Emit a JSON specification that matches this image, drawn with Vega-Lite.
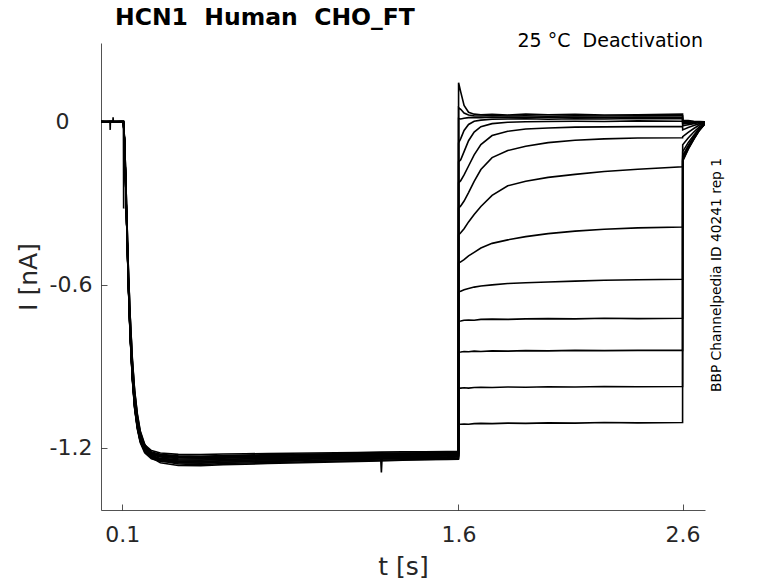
{
"$schema": "https://vega.github.io/schema/vega-lite/v6.json",
"autosize": "none",
"width": 604,
"height": 467,
"padding": {"left": 101, "top": 43, "right": 73, "bottom": 73},
"background": "white",
"config": {
  "view": {"stroke": null},
  "font": "DejaVu Sans",
  "axis": {"grid": false, "domainColor": "#262626", "domainWidth": 0.8, "tickColor": "#262626", "tickWidth": 0.8, "tickSize": -6, "labelFont": "DejaVu Sans", "labelFontSize": 22, "labelColor": "#262626", "titleFont": "DejaVu Sans", "titleFontSize": 25, "titleFontWeight": "normal", "titleColor": "#262626"}
},
"title": {"text": "HCN1\u00a0 Human\u00a0 CHO_FT", "anchor": "start", "frame": "group", "dx": 14, "fontSize": 23.5, "fontWeight": "bold", "font": "DejaVu Sans", "color": "#000000", "offset": -16, "baseline": "alphabetic"},
"layer": [
{
"data": {"values": [
{"s":1,"t":0,"i":0.002},{"s":1,"t":0.045,"i":0.0},{"s":1,"t":0.046,"i":-0.03},{"s":1,"t":0.047,"i":0.0},{"s":1,"t":0.05,"i":-0.001},{"s":1,"t":0.1,"i":0.001},{"s":1,"t":0.105,"i":0.0},
{"s":1,"t":0.11,"i":-0.075},{"s":1,"t":0.115,"i":-0.224},{"s":1,"t":0.12,"i":-0.386},{"s":1,"t":0.127,"i":-0.598},{"s":1,"t":0.135,"i":-0.784},{"s":1,"t":0.145,"i":-0.946},{"s":1,"t":0.155,"i":-1.052},{"s":1,"t":0.167,"i":-1.127},{"s":1,"t":0.18,"i":-1.177},{"s":1,"t":0.2,"i":-1.214},{"s":1,"t":0.23,"i":-1.236},{"s":1,"t":0.27,"i":-1.245},
{"s":1,"t":0.35,"i":-1.251},{"s":1,"t":0.45,"i":-1.253},{"s":1,"t":0.55,"i":-1.248},{"s":1,"t":0.65,"i":-1.247},{"s":1,"t":0.75,"i":-1.245},{"s":1,"t":0.85,"i":-1.246},{"s":1,"t":0.95,"i":-1.242},{"s":1,"t":1.05,"i":-1.241},{"s":1,"t":1.15,"i":-1.24},{"s":1,"t":1.25,"i":-1.238},{"s":1,"t":1.253,"i":-1.239},{"s":1,"t":1.256,"i":-1.292},{"s":1,"t":1.259,"i":-1.239},{"s":1,"t":1.35,"i":-1.237},{"s":1,"t":1.45,"i":-1.235},{"s":1,"t":1.55,"i":-1.234},{"s":1,"t":1.6,"i":-1.232},
{"s":1,"t":1.6005,"i":0.144},{"s":1,"t":1.61,"i":0.11},{"s":1,"t":1.625,"i":0.06},{"s":1,"t":1.645,"i":0.035},{"s":1,"t":1.67,"i":0.028},{"s":1,"t":1.7,"i":0.026},{"s":1,"t":1.75,"i":0.027},{"s":1,"t":1.82,"i":0.025},{"s":1,"t":1.9,"i":0.028},{"s":1,"t":2.0,"i":0.026},{"s":1,"t":2.12,"i":0.027},{"s":1,"t":2.25,"i":0.025},{"s":1,"t":2.4,"i":0.026},{"s":1,"t":2.6,"i":0.028},
{"s":1,"t":2.6005,"i":0.005},{"s":1,"t":2.625,"i":0.004},{"s":1,"t":2.65,"i":0.002},{"s":1,"t":2.675,"i":0.001},{"s":1,"t":2.7,"i":0.0},

{"s":2,"t":0,"i":-0.002},{"s":2,"t":0.05,"i":0.002},{"s":2,"t":0.058,"i":0.001},{"s":2,"t":0.059,"i":0.016},{"s":2,"t":0.06,"i":0.0},{"s":2,"t":0.1,"i":0.0},{"s":2,"t":0.105,"i":-0.001},
{"s":2,"t":0.11,"i":-0.074},{"s":2,"t":0.115,"i":-0.221},{"s":2,"t":0.12,"i":-0.381},{"s":2,"t":0.127,"i":-0.59},{"s":2,"t":0.135,"i":-0.775},{"s":2,"t":0.145,"i":-0.935},{"s":2,"t":0.155,"i":-1.039},{"s":2,"t":0.167,"i":-1.113},{"s":2,"t":0.18,"i":-1.162},{"s":2,"t":0.2,"i":-1.199},{"s":2,"t":0.23,"i":-1.221},{"s":2,"t":0.27,"i":-1.23},
{"s":2,"t":0.35,"i":-1.236},{"s":2,"t":0.45,"i":-1.238},{"s":2,"t":0.55,"i":-1.234},{"s":2,"t":0.65,"i":-1.233},{"s":2,"t":0.75,"i":-1.232},{"s":2,"t":0.85,"i":-1.231},{"s":2,"t":0.95,"i":-1.229},{"s":2,"t":1.05,"i":-1.228},{"s":2,"t":1.15,"i":-1.227},{"s":2,"t":1.25,"i":-1.226},{"s":2,"t":1.35,"i":-1.225},{"s":2,"t":1.45,"i":-1.224},{"s":2,"t":1.55,"i":-1.223},{"s":2,"t":1.6,"i":-1.222},
{"s":2,"t":1.6005,"i":0.052},{"s":2,"t":1.61,"i":0.046},{"s":2,"t":1.625,"i":0.032},{"s":2,"t":1.645,"i":0.025},{"s":2,"t":1.67,"i":0.022},{"s":2,"t":1.7,"i":0.021},{"s":2,"t":1.75,"i":0.023},{"s":2,"t":1.82,"i":0.021},{"s":2,"t":1.9,"i":0.022},{"s":2,"t":2.0,"i":0.02},{"s":2,"t":2.12,"i":0.022},{"s":2,"t":2.25,"i":0.021},{"s":2,"t":2.4,"i":0.022},{"s":2,"t":2.6,"i":0.022},
{"s":2,"t":2.6005,"i":0.0},{"s":2,"t":2.625,"i":0.0},{"s":2,"t":2.65,"i":-0.001},{"s":2,"t":2.675,"i":0.0},{"s":2,"t":2.7,"i":0.0},

{"s":3,"t":0,"i":0.001},{"s":3,"t":0.05,"i":0.0},{"s":3,"t":0.1,"i":-0.002},{"s":3,"t":0.105,"i":0.001},
{"s":3,"t":0.11,"i":-0.063},{"s":3,"t":0.115,"i":-0.188},{"s":3,"t":0.12,"i":-0.339},{"s":3,"t":0.127,"i":-0.54},{"s":3,"t":0.135,"i":-0.715},{"s":3,"t":0.145,"i":-0.879},{"s":3,"t":0.155,"i":-0.991},{"s":3,"t":0.167,"i":-1.079},{"s":3,"t":0.18,"i":-1.142},{"s":3,"t":0.2,"i":-1.192},{"s":3,"t":0.23,"i":-1.23},{"s":3,"t":0.27,"i":-1.249},
{"s":3,"t":0.35,"i":-1.26},{"s":3,"t":0.45,"i":-1.263},{"s":3,"t":0.55,"i":-1.259},{"s":3,"t":0.65,"i":-1.257},{"s":3,"t":0.75,"i":-1.255},{"s":3,"t":0.85,"i":-1.254},{"s":3,"t":0.95,"i":-1.252},{"s":3,"t":1.05,"i":-1.25},{"s":3,"t":1.15,"i":-1.249},{"s":3,"t":1.25,"i":-1.247},{"s":3,"t":1.35,"i":-1.245},{"s":3,"t":1.45,"i":-1.244},{"s":3,"t":1.55,"i":-1.242},{"s":3,"t":1.6,"i":-1.24},
{"s":3,"t":1.6005,"i":0.012},{"s":3,"t":1.61,"i":0.01},{"s":3,"t":1.625,"i":0.013},{"s":3,"t":1.645,"i":0.015},{"s":3,"t":1.67,"i":0.016},{"s":3,"t":1.7,"i":0.015},{"s":3,"t":1.75,"i":0.017},{"s":3,"t":1.82,"i":0.016},{"s":3,"t":1.9,"i":0.015},{"s":3,"t":2.0,"i":0.017},{"s":3,"t":2.12,"i":0.016},{"s":3,"t":2.25,"i":0.015},{"s":3,"t":2.4,"i":0.017},{"s":3,"t":2.6,"i":0.016},
{"s":3,"t":2.6005,"i":-0.004},{"s":3,"t":2.625,"i":-0.003},{"s":3,"t":2.65,"i":-0.002},{"s":3,"t":2.675,"i":-0.001},{"s":3,"t":2.7,"i":0.0},

{"s":4,"t":0,"i":0.0},{"s":4,"t":0.05,"i":0.002},{"s":4,"t":0.1,"i":0.001},{"s":4,"t":0.105,"i":0.0},{"s":4,"t":0.106,"i":-0.32},{"s":4,"t":0.1075,"i":-0.06},
{"s":4,"t":0.11,"i":-0.074},{"s":4,"t":0.115,"i":-0.223},{"s":4,"t":0.12,"i":-0.384},{"s":4,"t":0.127,"i":-0.595},{"s":4,"t":0.135,"i":-0.781},{"s":4,"t":0.145,"i":-0.942},{"s":4,"t":0.155,"i":-1.048},{"s":4,"t":0.167,"i":-1.122},{"s":4,"t":0.18,"i":-1.172},{"s":4,"t":0.2,"i":-1.209},{"s":4,"t":0.23,"i":-1.231},{"s":4,"t":0.27,"i":-1.24},
{"s":4,"t":0.35,"i":-1.246},{"s":4,"t":0.45,"i":-1.247},{"s":4,"t":0.55,"i":-1.244},{"s":4,"t":0.65,"i":-1.242},{"s":4,"t":0.75,"i":-1.241},{"s":4,"t":0.85,"i":-1.239},{"s":4,"t":0.95,"i":-1.238},{"s":4,"t":1.05,"i":-1.236},{"s":4,"t":1.15,"i":-1.235},{"s":4,"t":1.25,"i":-1.233},{"s":4,"t":1.35,"i":-1.232},{"s":4,"t":1.45,"i":-1.231},{"s":4,"t":1.55,"i":-1.229},{"s":4,"t":1.6,"i":-1.228},
{"s":4,"t":1.6005,"i":-0.078},{"s":4,"t":1.61,"i":-0.062},{"s":4,"t":1.625,"i":-0.032},{"s":4,"t":1.645,"i":-0.01},{"s":4,"t":1.67,"i":0.002},{"s":4,"t":1.7,"i":0.006},{"s":4,"t":1.75,"i":0.009},{"s":4,"t":1.82,"i":0.01},{"s":4,"t":1.9,"i":0.011},{"s":4,"t":2.0,"i":0.009},{"s":4,"t":2.12,"i":0.011},{"s":4,"t":2.25,"i":0.01},{"s":4,"t":2.4,"i":0.012},{"s":4,"t":2.6,"i":0.011},
{"s":4,"t":2.6005,"i":-0.008},{"s":4,"t":2.625,"i":-0.006},{"s":4,"t":2.65,"i":-0.004},{"s":4,"t":2.675,"i":-0.002},{"s":4,"t":2.7,"i":0.0},

{"s":5,"t":0,"i":-0.001},{"s":5,"t":0.05,"i":0.001},{"s":5,"t":0.1,"i":0.002},{"s":5,"t":0.105,"i":0.0},
{"s":5,"t":0.11,"i":-0.074},{"s":5,"t":0.115,"i":-0.221},{"s":5,"t":0.12,"i":-0.38},{"s":5,"t":0.127,"i":-0.588},{"s":5,"t":0.135,"i":-0.772},{"s":5,"t":0.145,"i":-0.931},{"s":5,"t":0.155,"i":-1.035},{"s":5,"t":0.167,"i":-1.109},{"s":5,"t":0.18,"i":-1.158},{"s":5,"t":0.2,"i":-1.194},{"s":5,"t":0.23,"i":-1.216},{"s":5,"t":0.27,"i":-1.225},
{"s":5,"t":0.35,"i":-1.23},{"s":5,"t":0.45,"i":-1.232},{"s":5,"t":0.55,"i":-1.229},{"s":5,"t":0.65,"i":-1.228},{"s":5,"t":0.75,"i":-1.226},{"s":5,"t":0.85,"i":-1.225},{"s":5,"t":0.95,"i":-1.224},{"s":5,"t":1.05,"i":-1.223},{"s":5,"t":1.15,"i":-1.222},{"s":5,"t":1.25,"i":-1.221},{"s":5,"t":1.35,"i":-1.22},{"s":5,"t":1.45,"i":-1.219},{"s":5,"t":1.55,"i":-1.218},{"s":5,"t":1.6,"i":-1.218},
{"s":5,"t":1.6005,"i":-0.148},{"s":5,"t":1.61,"i":-0.14},{"s":5,"t":1.625,"i":-0.11},{"s":5,"t":1.645,"i":-0.07},{"s":5,"t":1.67,"i":-0.038},{"s":5,"t":1.7,"i":-0.018},{"s":5,"t":1.75,"i":-0.007},{"s":5,"t":1.82,"i":-0.002},{"s":5,"t":1.9,"i":0.0},{"s":5,"t":2.0,"i":0.001},{"s":5,"t":2.12,"i":0.002},{"s":5,"t":2.25,"i":0.001},{"s":5,"t":2.4,"i":0.003},{"s":5,"t":2.6,"i":0.002},
{"s":5,"t":2.6005,"i":-0.015},{"s":5,"t":2.625,"i":-0.011},{"s":5,"t":2.65,"i":-0.007},{"s":5,"t":2.675,"i":-0.003},{"s":5,"t":2.7,"i":-0.001},

{"s":6,"t":0,"i":0.002},{"s":6,"t":0.05,"i":0.0},{"s":6,"t":0.1,"i":-0.001},{"s":6,"t":0.105,"i":0.001},
{"s":6,"t":0.11,"i":-0.075},{"s":6,"t":0.115,"i":-0.225},{"s":6,"t":0.12,"i":-0.388},{"s":6,"t":0.127,"i":-0.6},{"s":6,"t":0.135,"i":-0.788},{"s":6,"t":0.145,"i":-0.95},{"s":6,"t":0.155,"i":-1.056},{"s":6,"t":0.167,"i":-1.131},{"s":6,"t":0.18,"i":-1.181},{"s":6,"t":0.2,"i":-1.219},{"s":6,"t":0.23,"i":-1.241},{"s":6,"t":0.27,"i":-1.25},
{"s":6,"t":0.35,"i":-1.256},{"s":6,"t":0.45,"i":-1.258},{"s":6,"t":0.55,"i":-1.254},{"s":6,"t":0.65,"i":-1.252},{"s":6,"t":0.75,"i":-1.251},{"s":6,"t":0.85,"i":-1.249},{"s":6,"t":0.95,"i":-1.247},{"s":6,"t":1.05,"i":-1.245},{"s":6,"t":1.15,"i":-1.244},{"s":6,"t":1.25,"i":-1.242},{"s":6,"t":1.35,"i":-1.24},{"s":6,"t":1.45,"i":-1.238},{"s":6,"t":1.55,"i":-1.236},{"s":6,"t":1.6,"i":-1.235},
{"s":6,"t":1.6005,"i":-0.225},{"s":6,"t":1.61,"i":-0.217},{"s":6,"t":1.625,"i":-0.196},{"s":6,"t":1.645,"i":-0.163},{"s":6,"t":1.67,"i":-0.122},{"s":6,"t":1.7,"i":-0.084},{"s":6,"t":1.75,"i":-0.051},{"s":6,"t":1.82,"i":-0.035},{"s":6,"t":1.9,"i":-0.027},{"s":6,"t":2.0,"i":-0.023},{"s":6,"t":2.12,"i":-0.02},{"s":6,"t":2.25,"i":-0.019},{"s":6,"t":2.4,"i":-0.018},{"s":6,"t":2.6,"i":-0.018},
{"s":6,"t":2.6005,"i":-0.03},{"s":6,"t":2.625,"i":-0.021},{"s":6,"t":2.65,"i":-0.014},{"s":6,"t":2.675,"i":-0.007},{"s":6,"t":2.7,"i":-0.002},

{"s":7,"t":0,"i":0.0},{"s":7,"t":0.05,"i":-0.002},{"s":7,"t":0.1,"i":0.001},{"s":7,"t":0.105,"i":0.0},
{"s":7,"t":0.11,"i":-0.074},{"s":7,"t":0.115,"i":-0.222},{"s":7,"t":0.12,"i":-0.383},{"s":7,"t":0.127,"i":-0.593},{"s":7,"t":0.135,"i":-0.778},{"s":7,"t":0.145,"i":-0.939},{"s":7,"t":0.155,"i":-1.044},{"s":7,"t":0.167,"i":-1.118},{"s":7,"t":0.18,"i":-1.167},{"s":7,"t":0.2,"i":-1.204},{"s":7,"t":0.23,"i":-1.226},{"s":7,"t":0.27,"i":-1.235},
{"s":7,"t":0.35,"i":-1.241},{"s":7,"t":0.45,"i":-1.242},{"s":7,"t":0.55,"i":-1.239},{"s":7,"t":0.65,"i":-1.237},{"s":7,"t":0.75,"i":-1.236},{"s":7,"t":0.85,"i":-1.235},{"s":7,"t":0.95,"i":-1.233},{"s":7,"t":1.05,"i":-1.232},{"s":7,"t":1.15,"i":-1.231},{"s":7,"t":1.25,"i":-1.229},{"s":7,"t":1.35,"i":-1.228},{"s":7,"t":1.45,"i":-1.227},{"s":7,"t":1.55,"i":-1.226},{"s":7,"t":1.6,"i":-1.225},
{"s":7,"t":1.6005,"i":-0.318},{"s":7,"t":1.61,"i":-0.31},{"s":7,"t":1.625,"i":-0.292},{"s":7,"t":1.645,"i":-0.261},{"s":7,"t":1.67,"i":-0.22},{"s":7,"t":1.7,"i":-0.176},{"s":7,"t":1.75,"i":-0.132},{"s":7,"t":1.82,"i":-0.106},{"s":7,"t":1.9,"i":-0.09},{"s":7,"t":2.0,"i":-0.077},{"s":7,"t":2.12,"i":-0.068},{"s":7,"t":2.25,"i":-0.063},{"s":7,"t":2.4,"i":-0.06},{"s":7,"t":2.6,"i":-0.059},
{"s":7,"t":2.6005,"i":-0.055},{"s":7,"t":2.625,"i":-0.039},{"s":7,"t":2.65,"i":-0.025},{"s":7,"t":2.675,"i":-0.012},{"s":7,"t":2.7,"i":-0.003},

{"s":8,"t":0,"i":0.001},{"s":8,"t":0.05,"i":0.001},{"s":8,"t":0.1,"i":0.0},{"s":8,"t":0.105,"i":-0.001},
{"s":8,"t":0.11,"i":-0.063},{"s":8,"t":0.115,"i":-0.189},{"s":8,"t":0.12,"i":-0.341},{"s":8,"t":0.127,"i":-0.543},{"s":8,"t":0.135,"i":-0.719},{"s":8,"t":0.145,"i":-0.883},{"s":8,"t":0.155,"i":-0.997},{"s":8,"t":0.167,"i":-1.085},{"s":8,"t":0.18,"i":-1.148},{"s":8,"t":0.2,"i":-1.199},{"s":8,"t":0.23,"i":-1.237},{"s":8,"t":0.27,"i":-1.256},
{"s":8,"t":0.35,"i":-1.266},{"s":8,"t":0.45,"i":-1.267},{"s":8,"t":0.55,"i":-1.263},{"s":8,"t":0.65,"i":-1.261},{"s":8,"t":0.75,"i":-1.259},{"s":8,"t":0.85,"i":-1.257},{"s":8,"t":0.95,"i":-1.255},{"s":8,"t":1.05,"i":-1.253},{"s":8,"t":1.15,"i":-1.251},{"s":8,"t":1.25,"i":-1.249},{"s":8,"t":1.35,"i":-1.247},{"s":8,"t":1.45,"i":-1.245},{"s":8,"t":1.55,"i":-1.244},{"s":8,"t":1.6,"i":-1.243},
{"s":8,"t":1.6005,"i":-0.417},{"s":8,"t":1.61,"i":-0.409},{"s":8,"t":1.625,"i":-0.394},{"s":8,"t":1.645,"i":-0.369},{"s":8,"t":1.67,"i":-0.342},{"s":8,"t":1.7,"i":-0.312},{"s":8,"t":1.75,"i":-0.271},{"s":8,"t":1.82,"i":-0.236},{"s":8,"t":1.9,"i":-0.219},{"s":8,"t":2.0,"i":-0.205},{"s":8,"t":2.12,"i":-0.194},{"s":8,"t":2.25,"i":-0.183},{"s":8,"t":2.4,"i":-0.175},{"s":8,"t":2.6,"i":-0.166},
{"s":8,"t":2.6005,"i":-0.085},{"s":8,"t":2.625,"i":-0.06},{"s":8,"t":2.65,"i":-0.038},{"s":8,"t":2.675,"i":-0.019},{"s":8,"t":2.7,"i":-0.004},

{"s":9,"t":0,"i":-0.002},{"s":9,"t":0.05,"i":0.0},{"s":9,"t":0.1,"i":0.002},{"s":9,"t":0.105,"i":0.0},
{"s":9,"t":0.11,"i":-0.073},{"s":9,"t":0.115,"i":-0.22},{"s":9,"t":0.12,"i":-0.378},{"s":9,"t":0.127,"i":-0.586},{"s":9,"t":0.135,"i":-0.769},{"s":9,"t":0.145,"i":-0.927},{"s":9,"t":0.155,"i":-1.031},{"s":9,"t":0.167,"i":-1.104},{"s":9,"t":0.18,"i":-1.153},{"s":9,"t":0.2,"i":-1.19},{"s":9,"t":0.23,"i":-1.211},{"s":9,"t":0.27,"i":-1.22},
{"s":9,"t":0.35,"i":-1.225},{"s":9,"t":0.45,"i":-1.226},{"s":9,"t":0.55,"i":-1.224},{"s":9,"t":0.65,"i":-1.223},{"s":9,"t":0.75,"i":-1.222},{"s":9,"t":0.85,"i":-1.221},{"s":9,"t":0.95,"i":-1.22},{"s":9,"t":1.05,"i":-1.219},{"s":9,"t":1.15,"i":-1.218},{"s":9,"t":1.25,"i":-1.217},{"s":9,"t":1.35,"i":-1.216},{"s":9,"t":1.45,"i":-1.216},{"s":9,"t":1.55,"i":-1.215},{"s":9,"t":1.6,"i":-1.215},
{"s":9,"t":1.6005,"i":-0.521},{"s":9,"t":1.61,"i":-0.516},{"s":9,"t":1.625,"i":-0.508},{"s":9,"t":1.645,"i":-0.494},{"s":9,"t":1.67,"i":-0.481},{"s":9,"t":1.7,"i":-0.465},{"s":9,"t":1.75,"i":-0.448},{"s":9,"t":1.82,"i":-0.435},{"s":9,"t":1.9,"i":-0.423},{"s":9,"t":2.0,"i":-0.412},{"s":9,"t":2.12,"i":-0.403},{"s":9,"t":2.25,"i":-0.396},{"s":9,"t":2.4,"i":-0.391},{"s":9,"t":2.6,"i":-0.388},
{"s":9,"t":2.6005,"i":-0.11},{"s":9,"t":2.625,"i":-0.077},{"s":9,"t":2.65,"i":-0.05},{"s":9,"t":2.675,"i":-0.024},{"s":9,"t":2.7,"i":-0.006},

{"s":10,"t":0,"i":0.0},{"s":10,"t":0.05,"i":0.001},{"s":10,"t":0.1,"i":-0.001},{"s":10,"t":0.105,"i":0.001},
{"s":10,"t":0.11,"i":-0.075},{"s":10,"t":0.115,"i":-0.224},{"s":10,"t":0.12,"i":-0.386},{"s":10,"t":0.127,"i":-0.598},{"s":10,"t":0.135,"i":-0.784},{"s":10,"t":0.145,"i":-0.946},{"s":10,"t":0.155,"i":-1.052},{"s":10,"t":0.167,"i":-1.127},{"s":10,"t":0.18,"i":-1.177},{"s":10,"t":0.2,"i":-1.214},{"s":10,"t":0.23,"i":-1.236},{"s":10,"t":0.27,"i":-1.245},
{"s":10,"t":0.35,"i":-1.25},{"s":10,"t":0.45,"i":-1.252},{"s":10,"t":0.55,"i":-1.249},{"s":10,"t":0.65,"i":-1.247},{"s":10,"t":0.75,"i":-1.245},{"s":10,"t":0.85,"i":-1.243},{"s":10,"t":0.95,"i":-1.241},{"s":10,"t":1.05,"i":-1.24},{"s":10,"t":1.15,"i":-1.238},{"s":10,"t":1.25,"i":-1.236},{"s":10,"t":1.35,"i":-1.234},{"s":10,"t":1.45,"i":-1.233},{"s":10,"t":1.55,"i":-1.231},{"s":10,"t":1.6,"i":-1.23},
{"s":10,"t":1.6005,"i":-0.628},{"s":10,"t":1.61,"i":-0.624},{"s":10,"t":1.625,"i":-0.619},{"s":10,"t":1.645,"i":-0.614},{"s":10,"t":1.67,"i":-0.609},{"s":10,"t":1.7,"i":-0.605},{"s":10,"t":1.75,"i":-0.601},{"s":10,"t":1.82,"i":-0.596},{"s":10,"t":1.9,"i":-0.593},{"s":10,"t":2.0,"i":-0.59},{"s":10,"t":2.12,"i":-0.587},{"s":10,"t":2.25,"i":-0.584},{"s":10,"t":2.4,"i":-0.582},{"s":10,"t":2.6,"i":-0.58},
{"s":10,"t":2.6005,"i":-0.125},{"s":10,"t":2.625,"i":-0.088},{"s":10,"t":2.65,"i":-0.056},{"s":10,"t":2.675,"i":-0.028},{"s":10,"t":2.7,"i":-0.006},

{"s":11,"t":0,"i":0.002},{"s":11,"t":0.05,"i":-0.001},{"s":11,"t":0.1,"i":0.0},{"s":11,"t":0.105,"i":0.0},
{"s":11,"t":0.11,"i":-0.074},{"s":11,"t":0.115,"i":-0.222},{"s":11,"t":0.12,"i":-0.382},{"s":11,"t":0.127,"i":-0.591},{"s":11,"t":0.135,"i":-0.776},{"s":11,"t":0.145,"i":-0.936},{"s":11,"t":0.155,"i":-1.041},{"s":11,"t":0.167,"i":-1.115},{"s":11,"t":0.18,"i":-1.164},{"s":11,"t":0.2,"i":-1.201},{"s":11,"t":0.23,"i":-1.223},{"s":11,"t":0.27,"i":-1.232},
{"s":11,"t":0.35,"i":-1.237},{"s":11,"t":0.45,"i":-1.239},{"s":11,"t":0.55,"i":-1.236},{"s":11,"t":0.65,"i":-1.234},{"s":11,"t":0.75,"i":-1.233},{"s":11,"t":0.85,"i":-1.231},{"s":11,"t":0.95,"i":-1.23},{"s":11,"t":1.05,"i":-1.229},{"s":11,"t":1.15,"i":-1.228},{"s":11,"t":1.25,"i":-1.226},{"s":11,"t":1.35,"i":-1.225},{"s":11,"t":1.45,"i":-1.224},{"s":11,"t":1.55,"i":-1.223},{"s":11,"t":1.6,"i":-1.222},
{"s":11,"t":1.6005,"i":-0.735},{"s":11,"t":1.61,"i":-0.734},{"s":11,"t":1.625,"i":-0.731},{"s":11,"t":1.645,"i":-0.73},{"s":11,"t":1.67,"i":-0.731},{"s":11,"t":1.7,"i":-0.728},{"s":11,"t":1.75,"i":-0.727},{"s":11,"t":1.82,"i":-0.728},{"s":11,"t":1.9,"i":-0.726},{"s":11,"t":2.0,"i":-0.725},{"s":11,"t":2.12,"i":-0.726},{"s":11,"t":2.25,"i":-0.724},{"s":11,"t":2.4,"i":-0.725},{"s":11,"t":2.6,"i":-0.724},
{"s":11,"t":2.6005,"i":-0.133},{"s":11,"t":2.625,"i":-0.093},{"s":11,"t":2.65,"i":-0.06},{"s":11,"t":2.675,"i":-0.029},{"s":11,"t":2.7,"i":-0.007},

{"s":12,"t":0,"i":-0.001},{"s":12,"t":0.05,"i":0.002},{"s":12,"t":0.1,"i":0.001},{"s":12,"t":0.105,"i":0.0},
{"s":12,"t":0.11,"i":-0.063},{"s":12,"t":0.115,"i":-0.188},{"s":12,"t":0.12,"i":-0.338},{"s":12,"t":0.127,"i":-0.538},{"s":12,"t":0.135,"i":-0.713},{"s":12,"t":0.145,"i":-0.875},{"s":12,"t":0.155,"i":-0.988},{"s":12,"t":0.167,"i":-1.075},{"s":12,"t":0.18,"i":-1.138},{"s":12,"t":0.2,"i":-1.188},{"s":12,"t":0.23,"i":-1.225},{"s":12,"t":0.27,"i":-1.244},
{"s":12,"t":0.35,"i":-1.255},{"s":12,"t":0.45,"i":-1.257},{"s":12,"t":0.55,"i":-1.254},{"s":12,"t":0.65,"i":-1.252},{"s":12,"t":0.75,"i":-1.25},{"s":12,"t":0.85,"i":-1.249},{"s":12,"t":0.95,"i":-1.247},{"s":12,"t":1.05,"i":-1.245},{"s":12,"t":1.15,"i":-1.244},{"s":12,"t":1.25,"i":-1.242},{"s":12,"t":1.35,"i":-1.241},{"s":12,"t":1.45,"i":-1.24},{"s":12,"t":1.55,"i":-1.239},{"s":12,"t":1.6,"i":-1.238},
{"s":12,"t":1.6005,"i":-0.849},{"s":12,"t":1.61,"i":-0.848},{"s":12,"t":1.625,"i":-0.846},{"s":12,"t":1.645,"i":-0.847},{"s":12,"t":1.67,"i":-0.845},{"s":12,"t":1.7,"i":-0.846},{"s":12,"t":1.75,"i":-0.844},{"s":12,"t":1.82,"i":-0.845},{"s":12,"t":1.9,"i":-0.843},{"s":12,"t":2.0,"i":-0.844},{"s":12,"t":2.12,"i":-0.842},{"s":12,"t":2.25,"i":-0.843},{"s":12,"t":2.4,"i":-0.842},{"s":12,"t":2.6,"i":-0.842},
{"s":12,"t":2.6005,"i":-0.138},{"s":12,"t":2.625,"i":-0.097},{"s":12,"t":2.65,"i":-0.062},{"s":12,"t":2.675,"i":-0.03},{"s":12,"t":2.7,"i":-0.007},

{"s":13,"t":0,"i":0.001},{"s":13,"t":0.05,"i":0.0},{"s":13,"t":0.1,"i":0.0},{"s":13,"t":0.105,"i":-0.001},
{"s":13,"t":0.11,"i":-0.074},{"s":13,"t":0.115,"i":-0.223},{"s":13,"t":0.12,"i":-0.384},{"s":13,"t":0.127,"i":-0.595},{"s":13,"t":0.135,"i":-0.781},{"s":13,"t":0.145,"i":-0.942},{"s":13,"t":0.155,"i":-1.048},{"s":13,"t":0.167,"i":-1.122},{"s":13,"t":0.18,"i":-1.172},{"s":13,"t":0.2,"i":-1.209},{"s":13,"t":0.23,"i":-1.231},{"s":13,"t":0.27,"i":-1.24},
{"s":13,"t":0.35,"i":-1.245},{"s":13,"t":0.45,"i":-1.246},{"s":13,"t":0.55,"i":-1.243},{"s":13,"t":0.65,"i":-1.241},{"s":13,"t":0.75,"i":-1.24},{"s":13,"t":0.85,"i":-1.238},{"s":13,"t":0.95,"i":-1.237},{"s":13,"t":1.05,"i":-1.235},{"s":13,"t":1.15,"i":-1.234},{"s":13,"t":1.25,"i":-1.232},{"s":13,"t":1.35,"i":-1.231},{"s":13,"t":1.45,"i":-1.23},{"s":13,"t":1.55,"i":-1.229},{"s":13,"t":1.6,"i":-1.228},
{"s":13,"t":1.6005,"i":-0.982},{"s":13,"t":1.61,"i":-0.981},{"s":13,"t":1.625,"i":-0.98},{"s":13,"t":1.645,"i":-0.981},{"s":13,"t":1.67,"i":-0.979},{"s":13,"t":1.7,"i":-0.978},{"s":13,"t":1.75,"i":-0.979},{"s":13,"t":1.82,"i":-0.977},{"s":13,"t":1.9,"i":-0.978},{"s":13,"t":2.0,"i":-0.976},{"s":13,"t":2.12,"i":-0.977},{"s":13,"t":2.25,"i":-0.975},{"s":13,"t":2.4,"i":-0.976},{"s":13,"t":2.6,"i":-0.975},
{"s":13,"t":2.6005,"i":-0.142},{"s":13,"t":2.625,"i":-0.099},{"s":13,"t":2.65,"i":-0.064},{"s":13,"t":2.675,"i":-0.031},{"s":13,"t":2.7,"i":-0.007},

{"s":14,"t":0,"i":0.0},{"s":14,"t":0.05,"i":-0.001},{"s":14,"t":0.1,"i":0.002},{"s":14,"t":0.105,"i":0.0},
{"s":14,"t":0.11,"i":-0.074},{"s":14,"t":0.115,"i":-0.221},{"s":14,"t":0.12,"i":-0.381},{"s":14,"t":0.127,"i":-0.589},{"s":14,"t":0.135,"i":-0.774},{"s":14,"t":0.145,"i":-0.933},{"s":14,"t":0.155,"i":-1.038},{"s":14,"t":0.167,"i":-1.111},{"s":14,"t":0.18,"i":-1.16},{"s":14,"t":0.2,"i":-1.197},{"s":14,"t":0.23,"i":-1.219},{"s":14,"t":0.27,"i":-1.228},
{"s":14,"t":0.35,"i":-1.233},{"s":14,"t":0.45,"i":-1.234},{"s":14,"t":0.55,"i":-1.231},{"s":14,"t":0.65,"i":-1.23},{"s":14,"t":0.75,"i":-1.229},{"s":14,"t":0.85,"i":-1.228},{"s":14,"t":0.95,"i":-1.226},{"s":14,"t":1.05,"i":-1.225},{"s":14,"t":1.15,"i":-1.224},{"s":14,"t":1.25,"i":-1.223},{"s":14,"t":1.35,"i":-1.222},{"s":14,"t":1.45,"i":-1.221},{"s":14,"t":1.55,"i":-1.22},{"s":14,"t":1.6,"i":-1.22},
{"s":14,"t":1.6005,"i":-1.115},{"s":14,"t":1.61,"i":-1.114},{"s":14,"t":1.625,"i":-1.113},{"s":14,"t":1.645,"i":-1.114},{"s":14,"t":1.67,"i":-1.112},{"s":14,"t":1.7,"i":-1.111},{"s":14,"t":1.75,"i":-1.112},{"s":14,"t":1.82,"i":-1.11},{"s":14,"t":1.9,"i":-1.111},{"s":14,"t":2.0,"i":-1.109},{"s":14,"t":2.12,"i":-1.11},{"s":14,"t":2.25,"i":-1.108},{"s":14,"t":2.4,"i":-1.109},{"s":14,"t":2.6,"i":-1.108},
{"s":14,"t":2.6005,"i":-0.145},{"s":14,"t":2.625,"i":-0.102},{"s":14,"t":2.65,"i":-0.065},{"s":14,"t":2.675,"i":-0.032},{"s":14,"t":2.7,"i":-0.007}
]},
"mark": {"type": "line", "color": "#000000", "strokeWidth": 1.6, "clip": true, "interpolate": "linear"},
"encoding": {
  "x": {"field": "t", "type": "quantitative", "scale": {"domain": [0.005, 2.7], "nice": false, "zero": false},
        "axis": {"values": [0.1, 1.6, 2.6], "title": "t [s]", "labelExpr": "toString(datum.value)", "labelPadding": 20, "titlePadding": 9}},
  "y": {"field": "i", "type": "quantitative", "scale": {"domain": [-1.43, 0.29], "nice": false, "zero": false},
        "axis": {"values": [-1.2, -0.6, 0], "title": "I [nA]", "labelExpr": "datum.value == 0 ? '0\u00a0\u2800' : toString(datum.value)", "labelPadding": 15, "titlePadding": 8}},
  "detail": {"field": "s", "type": "nominal"}
}
},
{
"data": {"values": [{"label": "25 °C\u00a0 Deactivation"}]},
"mark": {"type": "text", "align": "right", "baseline": "alphabetic", "fontSize": 19, "font": "DejaVu Sans", "color": "#000000"},
"encoding": {"x": {"datum": 2.691}, "y": {"datum": 0.275}, "text": {"field": "label"}}
},
{
"data": {"values": [{"label": "BBP Channelpedia ID 40241 rep 1"}]},
"mark": {"type": "text", "align": "center", "baseline": "middle", "angle": 270, "fontSize": 13.8, "font": "DejaVu Sans", "color": "#000000"},
"encoding": {"x": {"datum": 2.754}, "y": {"datum": -0.5645}, "text": {"field": "label"}}
}
]
}
